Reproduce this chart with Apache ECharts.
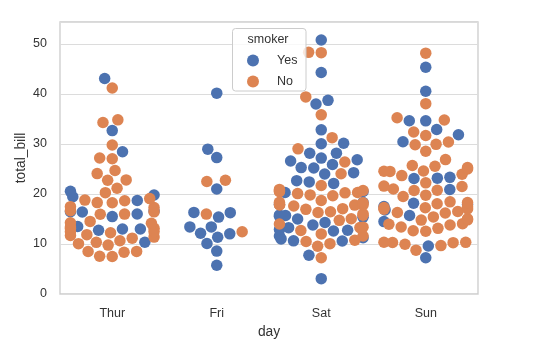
<!DOCTYPE html>
<html>
<head>
<meta charset="utf-8">
<script src="https://cdn.jsdelivr.net/npm/echarts@6/dist/echarts.min.js"></script>
<style>
  html, body { margin: 0; padding: 0; background: #fff; }
  #chart { width: 538px; height: 351px; }
</style>
</head>
<body>
<div id="chart"></div>
<script>
const DAYS = ['Thur', 'Fri', 'Sat', 'Sun'];

// total_bill per day, split by smoker
const THUR_YES = [19.44, 32.68, 16.00, 19.81, 28.44, 15.48, 16.58, 10.34, 43.11, 13.00, 13.51, 18.71, 12.74, 13.00, 16.40, 20.53, 16.47];
const THUR_NO = [27.20, 22.76, 17.29, 16.66, 10.07, 15.98, 34.83, 13.03, 18.28, 24.71, 21.16, 10.65, 12.43, 24.08, 11.69,
  13.42, 14.26, 15.95, 12.48, 29.80, 8.52, 14.52, 11.38, 22.82, 19.08, 20.27, 11.17, 12.26, 18.26, 8.51, 10.33, 14.15,
  13.16, 17.47, 34.30, 41.19, 27.05, 16.43, 8.35, 18.64, 11.87, 9.78, 7.51, 7.56, 18.78];
const FRI_YES = [28.97, 5.75, 16.32, 40.17, 27.28, 12.03, 21.01, 11.35, 15.38, 12.16, 13.42, 8.58, 13.42, 16.27, 10.09];
const FRI_NO = [22.49, 22.75, 12.46, 15.98];
const SAT_YES = [38.01, 11.24, 20.29, 13.81, 11.02, 18.29, 3.07, 15.01, 26.86, 25.28, 17.92, 44.30, 22.42, 15.36, 20.49,
  25.21, 14.31, 10.59, 10.63, 50.81, 15.81, 26.59, 38.73, 24.27, 12.76, 30.06, 25.89, 13.27, 28.17, 12.90, 28.15, 11.59,
  7.74, 30.14, 22.12, 24.01, 15.69, 15.53, 12.60, 32.83, 27.18, 22.67];
const SAT_NO = [20.65, 17.92, 20.29, 15.77, 39.42, 19.82, 17.81, 13.37, 12.69, 21.70, 19.65, 9.55, 18.35, 15.06, 20.69,
  17.78, 24.06, 16.31, 16.93, 18.69, 31.27, 16.04, 26.41, 48.27, 17.59, 20.08, 16.45, 20.23, 12.02, 17.07, 14.73, 10.51,
  20.92, 18.24, 14.00, 7.25, 48.33, 20.45, 13.28, 11.61, 10.77, 10.07, 35.83, 29.03, 17.82];
const SUN_YES = [17.51, 7.25, 31.85, 16.82, 32.90, 17.89, 14.48, 9.60, 34.63, 34.65, 23.33, 45.35, 23.17, 40.55, 20.90,
  30.46, 18.15, 23.10, 15.69];
const SUN_NO = [16.99, 10.34, 21.01, 23.68, 24.59, 25.29, 8.77, 26.88, 15.04, 14.78, 10.27, 35.26, 15.42, 18.43, 14.83,
  21.58, 10.33, 16.29, 16.97, 17.46, 13.94, 9.68, 30.40, 18.29, 22.23, 32.40, 28.55, 18.04, 12.54, 10.29, 34.81, 9.94,
  25.56, 19.49, 38.07, 23.95, 25.71, 17.31, 29.93, 14.07, 13.13, 17.26, 24.55, 19.77, 29.85, 48.17, 25.00, 13.39, 16.49,
  21.50, 12.66, 16.21, 13.81, 24.52, 20.76, 31.71, 20.69];

const YES_BY_DAY = [THUR_YES, FRI_YES, SAT_YES, SUN_YES];
const NO_BY_DAY = [THUR_NO, FRI_NO, SAT_NO, SUN_NO];
const Y_TICKS = [0, 10, 20, 30, 40, 50];

const BLUE = '#4c72b0';
const ORANGE = '#dd8452';
const FONT = "'Liberation Sans', Arial, sans-serif";
const R = 6;          // swarm radius in px
const WIDTH = 0.8;    // swarm width in category units

const chart = echarts.init(document.getElementById('chart'));

chart.setOption({
  animation: false,
  backgroundColor: '#fff',
  grid: { left: 60, right: 60, top: 22, bottom: 57, show: true, borderColor: '#cccccc', borderWidth: 1.3 },
  xAxis: [{
    type: 'category',
    data: DAYS,
    name: 'day',
    nameLocation: 'middle',
    nameGap: 31,
    nameMoveOverlap: false,
    nameTextStyle: { color: '#333', fontSize: 13.8, fontFamily: FONT },
    axisLine: { show: false },
    axisTick: { show: false },
    axisLabel: { color: '#333', fontSize: 12.5, fontFamily: FONT, margin: 13 },
    splitLine: { show: false },
  }, {
    type: 'value',
    min: -0.5, max: 3.5,
    show: false,
  }],
  yAxis: {
    type: 'value',
    min: Y_TICKS[0], max: 54.4, interval: 10,
    name: 'total_bill',
    nameLocation: 'middle',
    nameGap: 32,
    nameMoveOverlap: false,
    nameTextStyle: { color: '#333', fontSize: 13.8, fontFamily: FONT },
    axisLine: { show: false },
    axisTick: { show: false },
    axisLabel: {
      color: '#333', fontSize: 12.5, fontFamily: FONT, margin: 13,
      formatter: v => (Y_TICKS.includes(v) ? String(v) : ''),
    },
    splitLine: { lineStyle: { color: '#dcdcdc', width: 1 } },
  },
  legend: {
    data: ['Yes', 'No'],
    orient: 'vertical',
    left: 247, top: 54,
    padding: 0,
    itemWidth: 12, itemHeight: 12, itemGap: 8,
    icon: 'circle',
    textStyle: { color: '#333', fontSize: 12.5, fontFamily: FONT, padding: [0, 0, 0, 13] },
    z: 12,
  },
  graphic: [{
    type: 'rect',
    shape: { x: 232.5, y: 28.5, width: 73.5, height: 62.5, r: 3 },
    style: { fill: 'rgba(255,255,255,0.8)', stroke: '#cccccc', lineWidth: 1 },
    z: 10,
  }, {
    type: 'text',
    x: 268, y: 40,
    style: { text: 'smoker', fill: '#333', font: '12.5px ' + FONT, align: 'center', verticalAlign: 'middle' },
    z: 11,
  }],
  series: [
    { name: 'Yes', type: 'scatter', xAxisIndex: 1, data: [] },
    { name: 'No', type: 'scatter', xAxisIndex: 1, data: [] },
  ],
});

// seaborn-style beeswarm in pixel space
function beeswarm(pts, mid) {
  const swarm = [pts[0]];
  for (let k = 1; k < pts.length; k++) {
    const p = pts[k];
    const nb = [];
    for (let j = swarm.length - 1; j >= 0; j--) {
      if (p.up - swarm[j].up < 2 * R) nb.unshift(swarm[j]);
      else break;
    }
    const cands = [p.px];
    let leftFirst = true;
    for (const q of nb) {
      const dy = p.up - q.up;
      const dx = Math.sqrt(Math.max(4 * R * R - dy * dy, 0)) * 1.05;
      if (leftFirst) cands.push(q.px - dx, q.px + dx);
      else cands.push(q.px + dx, q.px - dx);
      leftFirst = !leftFirst;
    }
    cands.sort((a, b) => Math.abs(a - mid) - Math.abs(b - mid));
    let x = cands[0];
    for (const c of cands) {
      if (nb.every(q => (q.px - c) ** 2 + (q.up - p.up) ** 2 >= 4 * R * R - 1e-9)) { x = c; break; }
    }
    p.px = x;
    swarm.push(p);
  }
}

const xPx = v => chart.convertToPixel({ xAxisIndex: 1 }, v);
const yPx = v => chart.convertToPixel({ yAxisIndex: 0 }, v);
const catW = xPx(1) - xPx(0);

const yesData = [];
const noData = [];
DAYS.forEach((d, i) => {
  const center = xPx(i);
  const pts = [];
  YES_BY_DAY[i].forEach(v => pts.push({ v, hue: 'Yes', px: center, up: -yPx(v) }));
  NO_BY_DAY[i].forEach(v => pts.push({ v, hue: 'No', px: center, up: -yPx(v) }));
  pts.sort((a, b) => a.v - b.v);
  beeswarm(pts, center);
  const half = WIDTH / 2 * catW;
  pts.forEach(p => {
    const px = Math.min(Math.max(p.px, center - half), center + half);
    const item = [i + (px - center) / catW, p.v];
    (p.hue === 'Yes' ? yesData : noData).push(item);
  });
});

chart.setOption({
  series: [
    { name: 'Yes', data: yesData, symbol: 'circle', symbolSize: 11.5, itemStyle: { color: BLUE, opacity: 1 }, emphasis: { disabled: true }, z: 2 },
    { name: 'No', data: noData, symbol: 'circle', symbolSize: 11.5, itemStyle: { color: ORANGE, opacity: 1 }, emphasis: { disabled: true }, z: 3 },
  ],
});
</script>
</body>
</html>
